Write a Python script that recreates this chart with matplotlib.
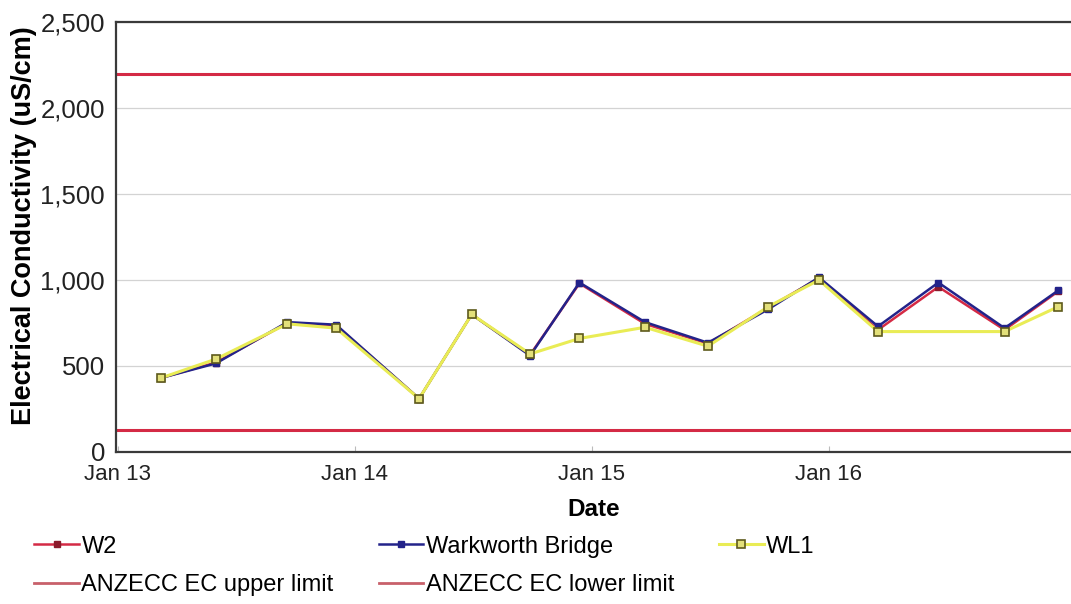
import matplotlib
matplotlib.use("Agg")
import matplotlib.pyplot as plt
import numpy as np
import pandas as pd
from matplotlib.lines import Line2D
from matplotlib.ticker import FuncFormatter, MultipleLocator

plt.rcParams['font.family'] = ['Liberation Sans', 'DejaVu Sans']

# Sampling dates (quarterly monitoring)
dates = pd.to_datetime([
    "2013-03-08", "2013-06-01", "2013-09-19", "2013-12-03",
    "2014-04-10", "2014-06-30", "2014-09-28", "2014-12-13",
    "2015-03-24", "2015-06-29", "2015-09-30", "2015-12-17",
    "2016-03-17", "2016-06-18", "2016-09-28", "2016-12-20",
])

# Electrical conductivity (uS/cm) per site
w2 = [430, 520, 750, 735, 310, 800, 565, 980,
      745, 630, 840, 1010, 710, 960, 710, 935]
warkworth_bridge = [430, 515, 755, 740, 310, 800, 560, 985,
                    755, 635, 830, 1015, 730, 985, 720, 940]
wl1 = [430, 540, 745, 720, 310, 800, 570, 660,
       725, 615, 845, 1000, 700, np.nan, 700, 845]

# ANZECC guideline limits
anzecc_upper = 2200
anzecc_lower = 125

x_ticks = pd.to_datetime(["2013-01-01", "2014-01-01", "2015-01-01", "2016-01-01"])
x_tick_labels = ["Jan 13", "Jan 14", "Jan 15", "Jan 16"]

fig = plt.figure(figsize=(10.71, 6.04), dpi=100)
ax = fig.add_axes([0.1083, 0.2517, 0.8927, 0.7119])

red = "#D42A45"
navy = "#23238A"
yellow = "#E9EC55"
limit_handle = "#C8606A"

ax.axhline(anzecc_upper, color=red, lw=2.2, zorder=2)
ax.axhline(anzecc_lower, color=red, lw=2.2, zorder=2)

# WL1 skips its missing sample so the line bridges the gap
wl1_arr = np.array(wl1, dtype=float)
mask = ~np.isnan(wl1_arr)

ax.plot(dates, w2, color=red, lw=1.8, marker="s", ms=5,
        mfc="#8B1A2B", mec="#8B1A2B", zorder=3)
ax.plot(dates, warkworth_bridge, color=navy, lw=1.8, marker="s", ms=5,
        mfc=navy, mec=navy, zorder=4)
ax.plot(dates[mask], wl1_arr[mask], color=yellow, lw=2.2, marker="s", ms=6,
        mfc="#E3E07A", mec="#5E5A1C", mew=1.2, zorder=5)

ax.set_ylim(0, 2500)
ax.set_xlim(pd.Timestamp("2012-12-29"), pd.Timestamp("2017-01-10"))
ax.yaxis.set_major_locator(MultipleLocator(500))
ax.yaxis.set_major_formatter(FuncFormatter(lambda v, p: f"{int(v):,}"))
ax.set_xticks(x_ticks)
ax.set_xticklabels(x_tick_labels)

ax.grid(axis="y", color="#D3D3D3", lw=0.9, zorder=0)
ax.set_axisbelow(True)

for side in ("left", "bottom", "top"):
    ax.spines[side].set_color("#3A3A3A")
    ax.spines[side].set_linewidth(1.6)
ax.spines["right"].set_visible(False)

ax.tick_params(axis="y", length=0, pad=8, labelsize=18.5, colors="#222222")
ax.tick_params(axis="x", length=4, width=0.8, color="#BBBBBB", direction="in",
               pad=9, labelsize=16, colors="#222222")

ax.set_ylabel("Electrical Conductivity (uS/cm)", fontsize=19.5, fontweight="bold")
ax.yaxis.set_label_coords(-0.083, 0.526)
ax.set_xlabel("Date", fontsize=17.5, fontweight="bold", labelpad=9)

handles = [
    Line2D([], [], color=red, lw=1.8, marker="s", ms=5, mfc="#8B1A2B", mec="#8B1A2B"),
    Line2D([], [], color=limit_handle, lw=2.0),
    Line2D([], [], color=navy, lw=1.8, marker="s", ms=5, mfc=navy, mec=navy),
    Line2D([], [], color=limit_handle, lw=2.0),
    Line2D([], [], color=yellow, lw=2.2, marker="s", ms=6, mfc="#E3E07A",
           mec="#5E5A1C", mew=1.2),
]
labels = ["W2", "ANZECC EC upper limit", "Warkworth Bridge",
          "ANZECC EC lower limit", "WL1"]
fig.legend(handles, labels, loc="upper left", bbox_to_anchor=(0.032, 0.113),
           ncol=3, frameon=False, fontsize=17, handlelength=1.9,
           handletextpad=0.1, columnspacing=1.9, labelspacing=0.68,
           borderaxespad=0, borderpad=0)

fig.savefig("out.png", dpi=100)
